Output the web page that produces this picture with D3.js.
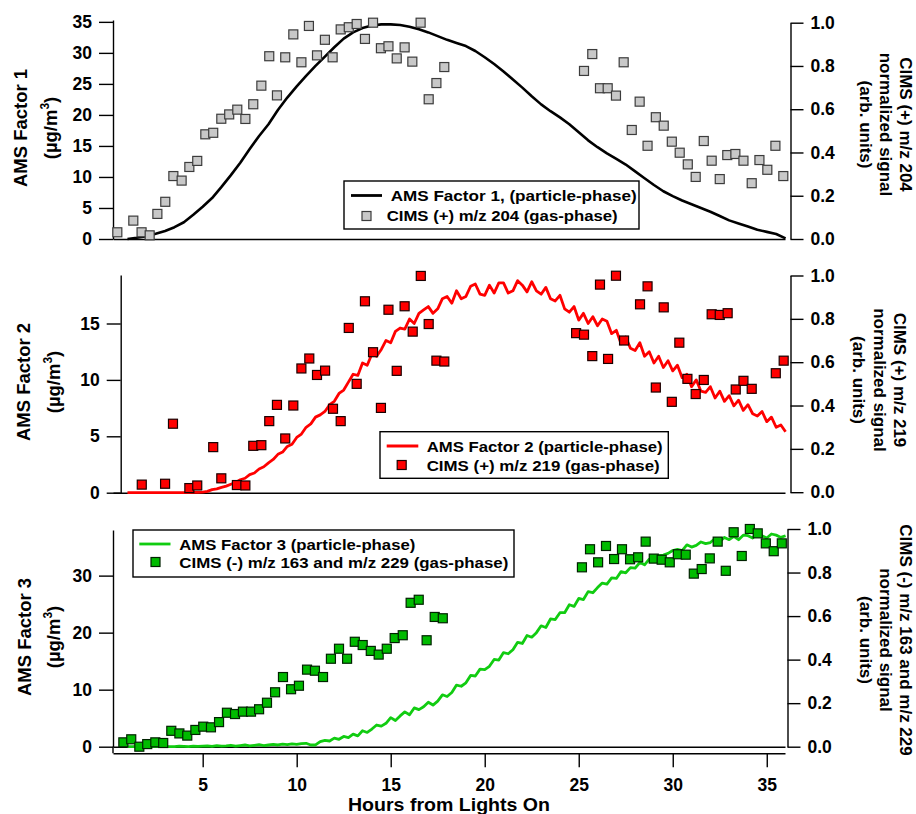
<!DOCTYPE html>
<html>
<head>
<meta charset="utf-8">
<script src="https://cdn.jsdelivr.net/npm/d3@7"></script>
<style>
  body { margin: 0; background: #fff; }
  svg { display: block; }
</style>
</head>
<body>
<div id="chart"></div>
<script>
// AMS factor time series, sampled from lights on (hour 1.0) at a fixed step
var lineStart = 1.0;
var factor1Step = 0.5;
var factorFineStep = 0.25;

// AMS Factor 1 (ug/m3), every 0.5 h
var factor1Line = [0.0, 0.2, 0.45, 0.85, 1.3, 1.9, 2.7, 3.9, 5.2, 6.6,
  8.4, 10.3, 12.3, 14.5, 16.6, 18.5, 20.8, 22.8, 24.6, 26.3,
  27.9, 29.4, 30.9, 32.3, 33.3, 34.0, 34.4, 34.6, 34.6, 34.5,
  34.2, 33.8, 33.3, 32.7, 32.1, 31.6, 31.1, 30.3, 29.3, 28.2,
  27.0, 25.7, 24.4, 23.0, 21.7, 20.6, 19.6, 18.5, 17.2, 15.9,
  14.8, 13.8, 12.9, 12.0, 10.9, 9.8, 8.7, 7.7, 6.9, 6.2,
  5.6, 5.0, 4.4, 3.7, 3.0, 2.5, 2.0, 1.5, 1.15, 0.8,
  0.1];

// AMS Factor 2 (ug/m3), every 0.25 h
var factor2Line = [0, 0, 0, 0, 0, 0, 0, 0,
  0, 0, 0, 0, 0, 0, 0.03, 0.02,
  0.06, 0.12, 0.27, 0.34, 0.47, 0.58, 0.75, 0.9,
  1.15, 1.28, 1.6, 1.75, 2.1, 2.3, 2.65, 2.95,
  3.4, 3.6, 4.1, 4.3, 4.9, 5.2, 5.8, 6.1,
  6.7, 6.9, 7.2, 7.8, 8.1, 8.8, 9.1, 9.8,
  10.5, 10.4, 11.5, 11.3, 12.3, 12.1, 12.7, 13.5,
  13.3, 14.3, 14.6, 14.5, 15.4, 15.0, 15.9, 16.2,
  16.5, 15.9, 16.3, 17.2, 17.4, 16.8, 17.9, 17.2,
  17.4, 18.3, 18.5, 17.6, 17.5, 18.4, 17.7, 18.6,
  18.6, 17.7, 17.9, 18.8, 18.4, 17.8, 18.7, 17.9,
  17.6, 18.2, 17.2, 17.0, 17.5, 16.3, 16.0, 16.5,
  15.3, 15.9, 15.0, 15.6, 14.8, 15.4, 15.2, 14.1,
  14.4, 13.2, 13.8, 12.8, 12.6, 13.3, 12.1, 12.5,
  11.5, 12.1, 11.1, 11.7, 10.8, 11.3, 10.2, 10.5,
  9.4, 10.0, 9.0, 8.9, 9.4, 8.4, 9.0, 8.1,
  8.6, 7.7, 8.2, 7.3, 7.8, 7.0, 6.8, 7.2,
  6.3, 6.7, 5.8, 6.0, 5.4];

// AMS Factor 3 (ug/m3), every 0.25 h
var factor3Line = [0, 0, 0.05, 0, 0, 0.05, 0, 0,
  0.05, 0, 0, 0.1, 0.05, 0, 0.1, 0.05,
  0.1, 0.15, 0.05, 0.2, 0.1, 0.15, 0.25, 0.1,
  0.2, 0.3, 0.15, 0.25, 0.35, 0.2, 0.3, 0.4,
  0.3, 0.45, 0.35, 0.5, 0.4, 0.55, 0.6, 0.3,
  0.3, 0.9, 1.1, 1.0, 1.5, 1.3, 1.8, 1.6,
  2.2, 1.9, 2.8, 2.5, 3.1, 3.8, 3.6, 4.1,
  5.1, 4.6, 5.4, 6.1, 5.6, 6.8, 6.5, 7.0,
  7.8, 7.3, 8.0, 9.1, 8.8, 9.5, 10.8, 10.6,
  11.2, 12.5, 12.4, 13.6, 13.5, 14.1, 15.3, 15.2,
  16.5, 16.3, 17.0, 18.3, 18.1, 19.5, 19.2, 20.0,
  21.2, 20.9, 22.4, 22.3, 23.5, 23.5, 24.9, 24.6,
  26.0, 25.8, 27.2, 27.0, 27.9, 28.7, 28.5, 29.6,
  29.5, 30.7, 30.5, 31.4, 31.3, 32.3, 31.9, 32.9,
  32.7, 33.5, 33.6, 33.9, 34.4, 34.6, 34.4, 35.4,
  35.0, 35.3, 35.9, 35.6, 35.8, 36.5, 36.0, 36.7,
  36.3, 36.9, 36.3, 37.1, 37.0, 36.6, 37.5, 37.0,
  36.6, 37.3, 37.1, 36.7, 37.0];

// CIMS normalized signals (gas-phase)
var cims204Hours = [0.46, 1.31, 1.75, 2.18, 2.59, 3.01, 3.44, 3.88, 4.29, 4.71,
  5.14, 5.56, 5.99, 6.41, 6.84, 7.27, 7.69, 8.12, 8.54, 8.95,
  9.39, 9.82, 10.25, 10.65, 11.08, 11.5, 11.91, 12.34, 12.77, 13.19,
  13.63, 14.06, 14.48, 14.88, 15.32, 15.74, 16.15, 16.59, 17.02, 17.43,
  17.85, 25.28, 25.72, 26.13, 26.54, 26.98, 27.39, 27.82, 28.24, 28.66,
  29.10, 29.52, 29.95, 30.37, 30.80, 31.22, 31.65, 32.07, 32.50, 32.90,
  33.33, 33.76, 34.20, 34.61, 35.03, 35.46, 35.88];
var cims204Signal = [0.031, 0.085, 0.031, 0.017, 0.116, 0.172, 0.291, 0.270, 0.333, 0.361,
  0.484, 0.491, 0.556, 0.576, 0.598, 0.555, 0.623, 0.709, 0.845, 0.664,
  0.840, 0.946, 0.817, 0.985, 0.849, 0.921, 0.840, 0.969, 0.979, 0.994,
  0.925, 1.0, 0.882, 0.891, 0.835, 0.886, 0.820, 1.0, 0.646, 0.721,
  0.795, 0.777, 0.855, 0.697, 0.697, 0.663, 0.817, 0.504, 0.635, 0.431,
  0.563, 0.524, 0.450, 0.399, 0.345, 0.287, 0.453, 0.362, 0.277, 0.388,
  0.393, 0.362, 0.258, 0.365, 0.320, 0.431, 0.291];

var cims219Hours = [1.76, 3.0, 3.42, 4.29, 4.71, 5.56, 5.99, 6.82, 7.27, 7.69,
  8.12, 8.54, 8.95, 9.39, 9.82, 10.25, 10.67, 11.08, 11.51, 11.93,
  12.34, 12.77, 13.19, 13.63, 14.06, 14.48, 14.88, 15.32, 15.74, 16.17,
  16.60, 17.02, 17.43, 17.85, 24.86, 25.28, 25.72, 26.13, 26.56, 26.98,
  27.41, 28.26, 28.66, 29.10, 29.52, 29.95, 30.35, 30.78, 31.22, 31.65,
  32.07, 32.50, 32.92, 33.35, 33.76, 34.20, 35.48, 35.90];
var cims219Signal = [0.035, 0.039, 0.316, 0.019, 0.031, 0.208, 0.064, 0.033, 0.031, 0.214,
  0.217, 0.328, 0.403, 0.248, 0.400, 0.571, 0.617, 0.541, 0.561, 0.385,
  0.328, 0.758, 0.500, 0.881, 0.646, 0.389, 0.842, 0.560, 0.858, 0.741,
  0.998, 0.776, 0.607, 0.603, 0.734, 0.727, 0.628, 0.958, 0.615, 0.999,
  0.700, 0.867, 0.950, 0.483, 0.853, 0.417, 0.690, 0.523, 0.453, 0.518,
  0.821, 0.818, 0.826, 0.474, 0.514, 0.477, 0.549, 0.607];

var cims163Hours = [0.78, 1.2, 1.63, 2.05, 2.48, 2.9, 3.33, 3.76, 4.18, 4.61,
  5.03, 5.44, 5.87, 6.29, 6.72, 7.14, 7.57, 8.0, 8.42, 8.85,
  9.27, 9.7, 10.12, 10.55, 10.97, 11.4, 11.82, 12.25, 12.68, 13.09,
  13.51, 13.94, 14.36, 14.79, 15.21, 15.64, 16.06, 16.49, 16.91, 17.34,
  17.77, 25.17, 25.6, 26.03, 26.45, 26.88, 27.3, 27.73, 28.16, 28.56,
  28.99, 29.41, 29.84, 30.27, 30.69, 31.12, 31.54, 31.97, 32.39, 32.82,
  33.24, 33.67, 34.1, 34.52, 34.95, 35.37, 35.8];
var cims163Signal = [0.020, 0.034, 0.0, 0.012, 0.020, 0.017, 0.073, 0.061, 0.051, 0.077,
  0.092, 0.089, 0.113, 0.156, 0.150, 0.161, 0.161, 0.172, 0.202, 0.250,
  0.320, 0.264, 0.280, 0.354, 0.349, 0.320, 0.404, 0.450, 0.404, 0.482,
  0.467, 0.440, 0.423, 0.450, 0.499, 0.512, 0.661, 0.675, 0.489, 0.596,
  0.590, 0.824, 0.907, 0.847, 0.922, 0.862, 0.907, 0.861, 0.870, 0.942,
  0.864, 0.859, 0.847, 0.884, 0.882, 0.795, 0.816, 0.865, 0.942, 0.808,
  0.985, 0.876, 1.0, 0.980, 0.934, 0.898, 0.934];

// tick values
var hourTicks = [5, 10, 15, 20, 25, 30, 35];
var factor1Ticks = [0, 5, 10, 15, 20, 25, 30, 35];
var factor2Ticks = [0, 5, 10, 15];
var factor3Ticks = [0, 10, 20, 30];
var signalTicks = [0, 0.2, 0.4, 0.6, 0.8, 1.0];

var svgWidth = 916;
var svgHeight = 814;
var fontFamily = '"Liberation Sans", Arial, Helvetica, sans-serif';

var svg = d3.select("#chart")
  .append("svg")
  .attr("width", svgWidth)
  .attr("height", svgHeight)
  .style("font-family", fontFamily)
  .style("font-weight", "bold");

var x = d3.scaleLinear().domain([0.23, 35.97]).range([113, 785]);

var panels = [
  {
    line: factor1Line, step: factor1Step, lineColor: "#000000", lineWidth: 2.6,
    hours: cims204Hours, signal: cims204Signal, fill: "#c8c8c8", stroke: "#3c3c3c",
    leftX: 113, top: 20, zeroY: 239, leftMax: 35.3, leftTicks: factor1Ticks,
    rightX: 790.5, rightTop: 22.7, rightZero: 239,
    title: "AMS Factor 1", titleX: [27, 57], titleY: 128,
    rightTitle: ["CIMS (+) m/z 204", "normalized signal", "(arb. units)"],
    rightTitleX: [900, 880, 859.5], rightTitleY: 124.5,
    legend: {
      x: 344, y: 181, w: 295, h: 48,
      lineX: [351, 382], lineY: 195.5, squareX: 366.5, squareY: 216,
      text1: "AMS Factor 1, (particle-phase)", t1x: 390.7, t1y: 201, t1len: 246,
      text2: "CIMS (+) m/z 204 (gas-phase)", t2x: 386.7, t2y: 221, t2len: 231
    }
  },
  {
    line: factor2Line, step: factorFineStep, lineColor: "#ff0000", lineWidth: 2.8,
    hours: cims219Hours, signal: cims219Signal, fill: "#ff0000", stroke: "#1a0000",
    leftX: 120.7, top: 275, zeroY: 492.7, leftMax: 19.3, leftTicks: factor2Ticks,
    rightX: 790.5, rightTop: 275.5, rightZero: 492.2,
    title: "AMS Factor 2", titleX: [30, 60], titleY: 382,
    rightTitle: ["CIMS (+) m/z 219", "normalized signal", "(arb. units)"],
    rightTitleX: [894, 874, 853], rightTitleY: 380,
    legend: {
      x: 380, y: 431.7, w: 288.3, h: 46.6,
      lineX: [386.7, 418.3], lineY: 446, squareX: 401.7, squareY: 465,
      text1: "AMS Factor 2 (particle-phase)", t1x: 426.7, t1y: 451.5, t1len: 236,
      text2: "CIMS (+) m/z 219 (gas-phase)", t2x: 426.7, t2y: 470.5, t2len: 233
    }
  },
  {
    line: factor3Line, step: factorFineStep, lineColor: "#11cc11", lineWidth: 2.8,
    hours: cims163Hours, signal: cims163Signal, fill: "#00bb00", stroke: "#002200",
    leftX: 113, top: 530, zeroY: 746.7, leftMax: 38, leftTicks: factor3Ticks,
    rightX: 787.5, rightTop: 529, rightZero: 746.7,
    title: "AMS Factor 3", titleX: [30.5, 60], titleY: 637,
    rightTitle: ["CIMS (-) m/z 163 and m/z 229", "normalized signal", "(arb. units)"],
    rightTitleX: [900, 880, 860], rightTitleY: 640,
    legend: {
      x: 133, y: 530, w: 381, h: 47,
      lineX: [139.3, 170.5], lineY: 544, squareX: 155.5, squareY: 562,
      text1: "AMS Factor 3 (particle-phase)", t1x: 179.3, t1y: 549.5, t1len: 236,
      text2: "CIMS (-) m/z 163 and m/z 229 (gas-phase)", t2x: 179.3, t2y: 567.5, t2len: 329
    }
  }
];

function styleAxis(g, size) {
  g.selectAll("path, line").attr("stroke", "#000").attr("stroke-width", 1.4);
  g.selectAll("text")
    .attr("fill", "#000")
    .style("font-family", fontFamily)
    .style("font-weight", "bold")
    .style("font-size", size + "px");
}

panels.forEach(function(p) {
  var yLeft = d3.scaleLinear().domain([0, p.leftMax]).range([p.zeroY, p.top]);
  var yRight = d3.scaleLinear().domain([0, 1]).range([p.rightZero, p.rightTop]);

  // zero line along the bottom of the plot
  var zeroAxis = svg.append("g")
    .attr("transform", `translate(0, ${p.zeroY})`)
    .call(d3.axisBottom(x).tickValues([]).tickSizeOuter(0));
  styleAxis(zeroAxis, 17);

  // left axis
  var leftAxis = svg.append("g")
    .attr("transform", `translate(${p.leftX}, 0)`)
    .call(d3.axisLeft(yLeft).tickValues(p.leftTicks).tickSize(14).tickPadding(7).tickSizeOuter(0));
  styleAxis(leftAxis, 17.5);

  // right axis
  var rightAxis = svg.append("g")
    .attr("transform", `translate(${p.rightX}, 0)`)
    .call(d3.axisRight(yRight).tickValues(signalTicks).tickFormat(d3.format(".1f"))
      .tickSize(13).tickPadding(7).tickSizeOuter(0));
  styleAxis(rightAxis, 17.5);

  // particle-phase line
  var line = d3.line()
    .x(function(d, i) { return x(lineStart + i * p.step); })
    .y(function(d) { return yLeft(d); });

  svg.append("path")
    .datum(p.line)
    .attr("fill", "none")
    .attr("stroke", p.lineColor)
    .attr("stroke-width", p.lineWidth)
    .attr("stroke-linejoin", "round")
    .attr("d", line);

  // gas-phase squares
  svg.append("g").selectAll("rect")
    .data(p.hours)
    .enter()
    .append("rect")
    .attr("x", function(d) { return x(d) - 4.5; })
    .attr("y", function(d, i) { return yRight(p.signal[i]) - 4.5; })
    .attr("width", 9)
    .attr("height", 9)
    .attr("fill", p.fill)
    .attr("stroke", p.stroke)
    .attr("stroke-width", 1.2);

  // left title
  var lt = svg.append("g")
    .attr("font-size", "18.5px")
    .attr("text-anchor", "middle");
  lt.append("text")
    .attr("transform", `translate(${p.titleX[0]}, ${p.titleY}) rotate(-90)`)
    .text(p.title);
  var unit = lt.append("text")
    .attr("transform", `translate(${p.titleX[1]}, ${p.titleY}) rotate(-90)`);
  unit.append("tspan").text("(µg/m");
  unit.append("tspan").attr("dy", -8).attr("font-size", "12px").text("3");
  unit.append("tspan").attr("dy", 8).text(")");

  // right title
  var rt = svg.append("g")
    .attr("font-size", "17px")
    .attr("text-anchor", "middle");
  p.rightTitle.forEach(function(t, i) {
    rt.append("text")
      .attr("transform", `translate(${p.rightTitleX[i]}, ${p.rightTitleY}) rotate(90)`)
      .text(t);
  });

  // legend
  var L = p.legend;
  var lg = svg.append("g").attr("font-size", "15px");
  lg.append("rect")
    .attr("x", L.x).attr("y", L.y).attr("width", L.w).attr("height", L.h)
    .attr("fill", "#fff").attr("stroke", "#000").attr("stroke-width", 1.4);
  lg.append("line")
    .attr("x1", L.lineX[0]).attr("x2", L.lineX[1])
    .attr("y1", L.lineY).attr("y2", L.lineY)
    .attr("stroke", p.lineColor).attr("stroke-width", 2.8);
  lg.append("rect")
    .attr("x", L.squareX - 4.5).attr("y", L.squareY - 4.5)
    .attr("width", 9).attr("height", 9)
    .attr("fill", p.fill).attr("stroke", p.stroke).attr("stroke-width", 1.2);
  lg.append("text")
    .attr("x", L.t1x).attr("y", L.t1y)
    .attr("textLength", L.t1len).attr("lengthAdjust", "spacingAndGlyphs")
    .text(L.text1);
  lg.append("text")
    .attr("x", L.t2x).attr("y", L.t2y)
    .attr("textLength", L.t2len).attr("lengthAdjust", "spacingAndGlyphs")
    .text(L.text2);
});

// bottom hours axis, set a little below the bottom panel
var bottomAxis = svg.append("g")
  .attr("transform", "translate(0, 753.3)")
  .call(d3.axisBottom(x).tickValues(hourTicks).tickSize(14).tickPadding(11).tickSizeOuter(0));
styleAxis(bottomAxis, 17.5);

// left axis of the bottom panel runs down to the hours axis
svg.append("line")
  .attr("x1", 113).attr("x2", 113)
  .attr("y1", 746.7).attr("y2", 753.3)
  .attr("stroke", "#000").attr("stroke-width", 1.4);

svg.append("text")
  .attr("x", 449)
  .attr("y", 811)
  .attr("text-anchor", "middle")
  .attr("font-size", "18.5px")
  .attr("textLength", 202)
  .attr("lengthAdjust", "spacingAndGlyphs")
  .text("Hours from Lights On");
</script>
</body>
</html>
